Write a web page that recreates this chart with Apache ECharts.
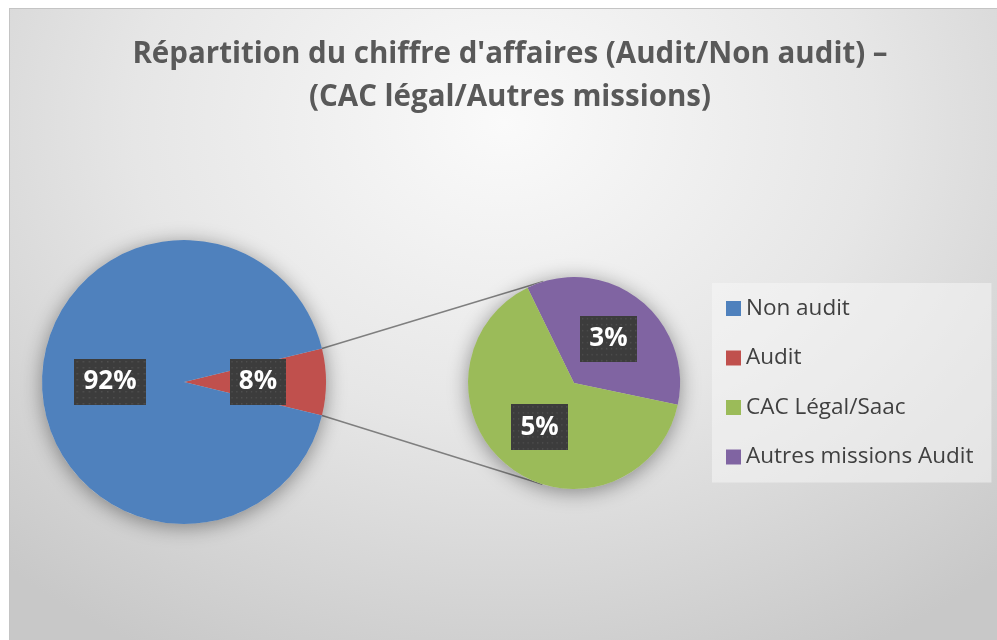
<!DOCTYPE html>
<html>
<head>
<meta charset="utf-8">
<script src="https://cdn.jsdelivr.net/npm/echarts@6/dist/echarts.min.js"></script>
<style>
html, body { margin: 0; padding: 0; background: #fff; }
#frame {
  position: absolute; left: 9px; top: 8px; width: 988px; height: 632px;
  border-left: 1px solid #c4c4c4; border-top: 1px solid #c4c4c4;
  background: radial-gradient(ellipse 75% 95% at 50% 18%, #fafafa 0%, #e6e6e6 50%, #c8c8c8 100%);
}
#main { position: absolute; left: 0; top: 0; width: 997px; height: 640px; }
</style>
</head>
<body>
<div id="frame"></div>
<div id="main"></div>
<script>
var myChart = echarts.init(document.getElementById('main'));

// données
var mainNames = ['Audit', 'Non audit'];
var mainValues = [7.6, 92.4];
var subNames = ['Autres missions Audit', 'CAC Légal/Saac'];
var subValues = [2.7, 4.9];
var legendNames = ['Non audit', 'Audit', 'CAC Légal/Saac', 'Autres missions Audit'];

var colors = {
  'Non audit': '#4f81bd',
  'Audit': '#c0504d',
  'CAC Légal/Saac': '#9bbb59',
  'Autres missions Audit': '#8064a2'
};

// mise en page
var c1 = [184, 382], r1 = 142;
var c2 = [574, 383], r2 = 106;

// fond pointillé des étiquettes
var pat = document.createElement('canvas');
pat.width = 70; pat.height = 46;
var ctx = pat.getContext('2d');
ctx.fillStyle = '#3c3c3c';
ctx.fillRect(0, 0, 70, 46);
ctx.fillStyle = '#505050';
for (var x = 2; x < 70; x += 6) {
  for (var y = 2; y < 46; y += 6) {
    ctx.fillRect(x, y, 1.5, 1.5);
  }
}
var dots = pat.toDataURL();

var labelStyle = {
  show: true,
  position: 'inside',
  formatter: function (p) { return Math.round(p.value) + '%'; },
  color: '#fff',
  fontFamily: 'Open Sans',
  fontWeight: 'bold',
  fontSize: 26,
  lineHeight: 26,
  padding: [10, 9, 10, 9],
  backgroundColor: { image: dots },
  shadowColor: 'rgba(0,0,0,0.55)',
  shadowBlur: 6,
  shadowOffsetX: 3,
  shadowOffsetY: 3
};

function toData(names, values) {
  return names.map(function (n, i) {
    return { name: n, value: values[i], itemStyle: { color: colors[n] } };
  });
}

// l'angle de la part Audit, centrée sur 3 heures
var total = mainValues.reduce(function (a, b) { return a + b; }, 0);
var auditShare = mainValues[0] / total;
var startMain = auditShare * 180;

// lignes de liaison : tangentes du bord de la part Audit au second camembert
function tangent(p, pickTop) {
  var vx = p[0] - c2[0], vy = p[1] - c2[1];
  var d = Math.sqrt(vx * vx + vy * vy);
  var a = Math.acos(r2 / d);
  var th = Math.atan2(vy, vx);
  var t1 = [c2[0] + r2 * Math.cos(th + a), c2[1] + r2 * Math.sin(th + a)];
  var t2 = [c2[0] + r2 * Math.cos(th - a), c2[1] + r2 * Math.sin(th - a)];
  if (pickTop) return t1[1] < t2[1] ? t1 : t2;
  return t1[1] > t2[1] ? t1 : t2;
}
var half = auditShare * Math.PI;
var pTop = [c1[0] + r1 * Math.cos(half), c1[1] - r1 * Math.sin(half)];
var pBot = [c1[0] + r1 * Math.cos(half), c1[1] + r1 * Math.sin(half)];
var tTop = tangent(pTop, true);
var tBot = tangent(pBot, false);

var shadowPie = function (center, radius) {
  return {
    type: 'pie', silent: true, center: center, radius: radius, z: 1,
    label: { show: false }, labelLine: { show: false },
    itemStyle: { color: '#d0d0d0', shadowBlur: 20, shadowColor: 'rgba(0,0,0,0.4)', shadowOffsetY: 3 },
    data: [{ name: '_', value: 1 }]
  };
};

var option = {
  animation: false,
  title: {
    text: "Répartition du chiffre d'affaires (Audit/Non audit) –\n(CAC légal/Autres missions)",
    left: 510,
    textAlign: 'center',
    top: 33,
    padding: 0,
    textStyle: {
      color: '#595959',
      fontFamily: 'Open Sans',
      fontWeight: 'bold',
      fontSize: 29.5,
      lineHeight: 43
    }
  },
  legend: {
    data: legendNames,
    orient: 'vertical',
    left: 712,
    top: 283,
    padding: [14, 18, 14, 14],
    backgroundColor: 'rgba(245,245,245,0.55)',
    itemWidth: 15,
    itemHeight: 15,
    itemGap: 26.5,
    icon: 'rect',
    textStyle: { color: '#404040', fontFamily: 'Open Sans', fontSize: 22.5, lineHeight: 22 }
  },
  graphic: [
    { type: 'line', z: 0, shape: { x1: pTop[0], y1: pTop[1], x2: tTop[0], y2: tTop[1] }, style: { stroke: '#7f7f7f', lineWidth: 1.5 } },
    { type: 'line', z: 0, shape: { x1: pBot[0], y1: pBot[1], x2: tBot[0], y2: tBot[1] }, style: { stroke: '#7f7f7f', lineWidth: 1.5 } }
  ],
  series: [
    shadowPie(c1, r1),
    shadowPie(c2, r2),
    {
      name: 'Répartition',
      type: 'pie',
      center: c1,
      radius: r1,
      z: 2,
      startAngle: startMain,
      clockwise: true,
      avoidLabelOverlap: false,
      label: labelStyle,
      labelLine: { show: false },
      emphasis: { disabled: true },
      data: toData(mainNames, mainValues)
    },
    {
      name: 'Détail audit',
      type: 'pie',
      center: c2,
      radius: r2,
      z: 2,
      startAngle: 116,
      clockwise: true,
      avoidLabelOverlap: false,
      label: labelStyle,
      labelLine: { show: false },
      emphasis: { disabled: true },
      data: toData(subNames, subValues)
    }
  ]
};

myChart.setOption(option);
</script>
</body>
</html>
